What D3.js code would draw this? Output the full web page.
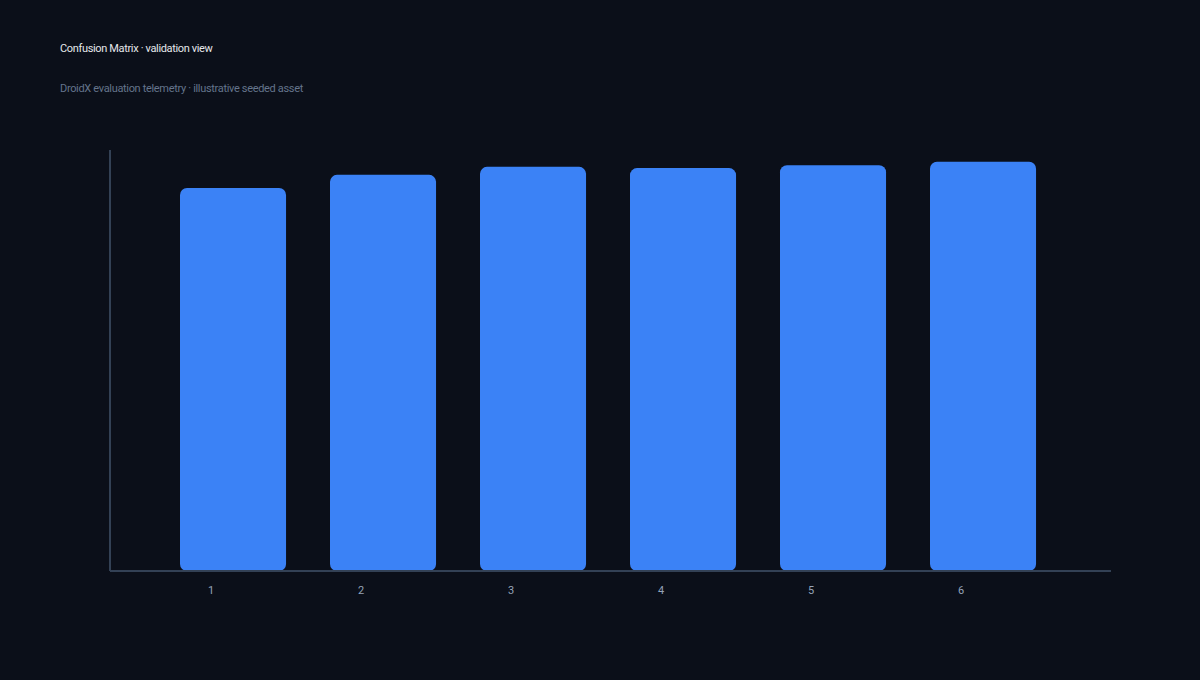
<!DOCTYPE html>
<html>
<head>
<meta charset="utf-8">
<script src="https://cdn.jsdelivr.net/npm/d3@7"></script>
<style>
  html, body { margin: 0; padding: 0; background: #0b0f19; }
  svg { display: block; font-family: Roboto, "Noto Sans", sans-serif; }
</style>
</head>
<body>
<svg id="chart" width="1200" height="680"></svg>
<script>
const categories = ['1', '2', '3', '4', '5', '6'];
const values = [0.910, 0.941, 0.960, 0.957, 0.964, 0.972];
const yDomain = [0, 1];

const width = 1200;
const height = 680;
const margin = { top: 150, right: 90, bottom: 109, left: 110 };

const svg = d3.select('#chart');

svg.append('rect')
  .attr('width', width)
  .attr('height', height)
  .attr('fill', '#0b0f19');

svg.append('text')
  .attr('x', 60)
  .attr('y', 52)
  .attr('fill', '#e5e7eb')
  .style('font-size', '11px')
  .style('letter-spacing', '-0.35px')
  .text('Confusion Matrix · validation view');

svg.append('text')
  .attr('x', 60)
  .attr('y', 92)
  .attr('fill', '#64748b')
  .style('font-size', '11px')
  .style('letter-spacing', '-0.33px')
  .text('DroidX evaluation telemetry · illustrative seeded asset');

// band centres sit on the tick positions; bars are shifted left of them
const x = d3.scaleBand()
  .domain(categories)
  .range([135, 1035])
  .padding(0);

const y = d3.scaleLinear()
  .domain(yDomain)
  .range([height - margin.bottom, margin.top]);

const barWidth = x.bandwidth() * 0.707;

svg.append('g')
  .selectAll('rect.bar')
  .data(values)
  .join('rect')
  .attr('class', 'bar')
  .attr('x', (d, i) => x(categories[i]) + 45)
  .attr('y', d => y(d))
  .attr('width', barWidth)
  .attr('height', d => y(0) - y(d))
  .attr('rx', 7)
  .attr('fill', '#3b82f6');

const axisColor = '#334155';

svg.append('line')
  .attr('x1', margin.left)
  .attr('x2', margin.left)
  .attr('y1', y(yDomain[1]))
  .attr('y2', y(0))
  .attr('stroke', axisColor)
  .attr('stroke-width', 2);

svg.append('line')
  .attr('x1', margin.left)
  .attr('x2', width - margin.right + 1)
  .attr('y1', y(0))
  .attr('y2', y(0))
  .attr('stroke', axisColor)
  .attr('stroke-width', 2);

const xAxis = svg.append('g')
  .attr('transform', `translate(1,${y(0)})`)
  .call(d3.axisBottom(x).tickSize(0).tickPadding(15));

xAxis.select('.domain').remove();
xAxis.selectAll('text')
  .attr('fill', '#94a3b8')
  .style('font-size', '11px')
  .style('font-family', 'Roboto, "Noto Sans", sans-serif');
</script>
</body>
</html>
